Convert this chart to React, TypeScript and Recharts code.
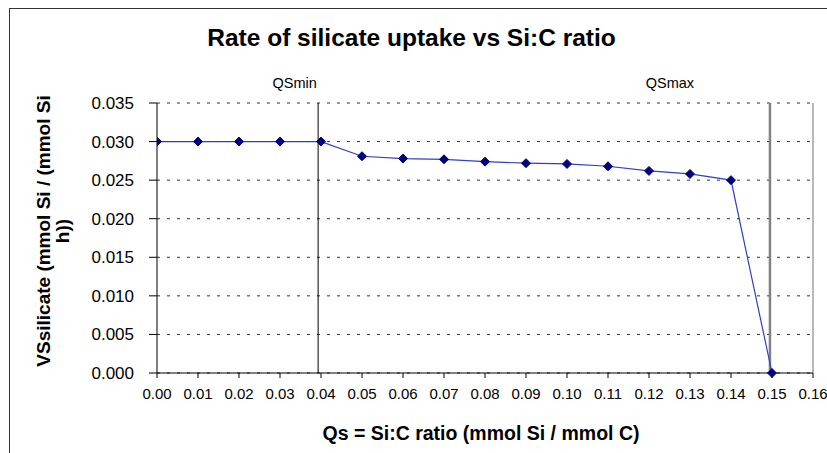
import React from 'react';
import { LineChart, Line, XAxis, YAxis, CartesianGrid, ReferenceLine, Label } from 'recharts';

// Si:C ratio (x) and silicate uptake rate (y)
const qsValues = [0, 0.01, 0.02, 0.03, 0.04, 0.05, 0.06, 0.07, 0.08, 0.09, 0.1, 0.11, 0.12, 0.13, 0.14, 0.15];
const vsValues = [0.03, 0.03, 0.03, 0.03, 0.03, 0.0281, 0.0278, 0.0277, 0.0274, 0.0272, 0.0271, 0.0268, 0.0262, 0.0258, 0.025, 0];

const xTicks = [0, 0.01, 0.02, 0.03, 0.04, 0.05, 0.06, 0.07, 0.08, 0.09, 0.1, 0.11, 0.12, 0.13, 0.14, 0.15, 0.16];
const yTicks = [0, 0.005, 0.01, 0.015, 0.02, 0.025, 0.03, 0.035];

const qsMin = 0.0393;
const qsMax = 0.1495;

const data = qsValues.map((qs, i) => ({ qs, vs: vsValues[i] }));

const FONT = '"Liberation Sans", Arial, sans-serif';

const Diamond = (props: any) => {
  const { cx, cy, index } = props;
  if (cx == null || cy == null) return null;
  const r = 4.5;
  return (
    <polygon
      key={`d-${index}`}
      points={`${cx},${cy - r} ${cx + r},${cy} ${cx},${cy + r} ${cx - r},${cy}`}
      fill="#000080"
      stroke="#000080"
    />
  );
};

const refLabel = (text: string, dx: number) => (props: any) => {
  const vb = props.viewBox || {};
  return (
    <text x={vb.x + dx} y={88} textAnchor="middle" fontSize={14.5} fontFamily={FONT} fill="#000">
      {text}
    </text>
  );
};

const YTitle = (props: any) => {
  const vb = props.viewBox || {};
  const cy = vb.y + vb.height / 2 - 7;
  return (
    <g fontFamily={FONT} fontSize={19} fontWeight="bold" fill="#000">
      <text x={0} y={0} textAnchor="middle" transform={`translate(50, ${cy}) rotate(-90)`}>
        VSsilicate (mmol Si / (mmol Si
      </text>
      <text x={0} y={0} textAnchor="middle" transform={`translate(69, ${cy}) rotate(-90)`}>
        h))
      </text>
    </g>
  );
};

const XTitle = (props: any) => {
  const vb = props.viewBox || {};
  return (
    <text x={vb.x + vb.width / 2 - 4} y={440} textAnchor="middle" fontFamily={FONT} fontSize={19.5} fontWeight="bold" fill="#000">
      Qs = Si:C ratio (mmol Si / mmol C)
    </text>
  );
};

export default function App() {
  return (
    <div style={{ position: 'absolute', left: 0, top: 0, width: 827, height: 453, overflow: 'hidden', background: '#fff' }}>
      <div style={{ position: 'absolute', left: 9, top: 8, width: 900, height: 500, border: '1.5px solid #333' }} />
      <div
        style={{
          position: 'absolute', left: 0, top: 24, width: 823, textAlign: 'center',
          fontFamily: FONT, fontWeight: 'bold', fontSize: 24.5, color: '#000',
        }}
      >
        Rate of silicate uptake vs Si:C ratio
      </div>
      <div style={{ position: 'absolute', left: 0, top: 0 }}>
        <LineChart width={827} height={453} data={data} margin={{ top: 103, right: 14, bottom: 0, left: 0 }}>
          <CartesianGrid vertical={false} stroke="#333" strokeDasharray="3 7" />
          <XAxis
            dataKey="qs"
            type="number"
            domain={[0, 0.16]}
            ticks={xTicks}
            interval={0}
            height={80}
            tickFormatter={(v: number) => v.toFixed(2)}
            tick={{ fontSize: 15, fill: '#000', fontFamily: FONT }}
            tickSize={5}
            tickMargin={10}
            stroke="#000"
            allowDataOverflow
          >
            <Label content={<XTitle />} />
          </XAxis>
          <YAxis
            type="number"
            domain={[0, 0.035]}
            ticks={yTicks}
            interval={0}
            width={157}
            tickFormatter={(v: number) => v.toFixed(3)}
            tick={{ fontSize: 17, fill: '#000', fontFamily: FONT }}
            tickSize={8}
            tickMargin={15}
            stroke="#000"
          >
            <Label content={<YTitle />} />
          </YAxis>
          <ReferenceLine x={0.16} stroke="#a0a0a0" strokeWidth={1.5} />
          <ReferenceLine x={qsMin} stroke="#000" strokeWidth={1} label={refLabel('QSmin', -23.5)} />
          <ReferenceLine x={qsMax} stroke="#808080" strokeWidth={2.5} label={refLabel('QSmax', -100)} />
          <Line
            dataKey="vs"
            type="linear"
            stroke="#2f40c0"
            strokeWidth={1.2}
            dot={<Diamond />}
            activeDot={false}
            isAnimationActive={false}
          />
        </LineChart>
      </div>
    </div>
  );
}
